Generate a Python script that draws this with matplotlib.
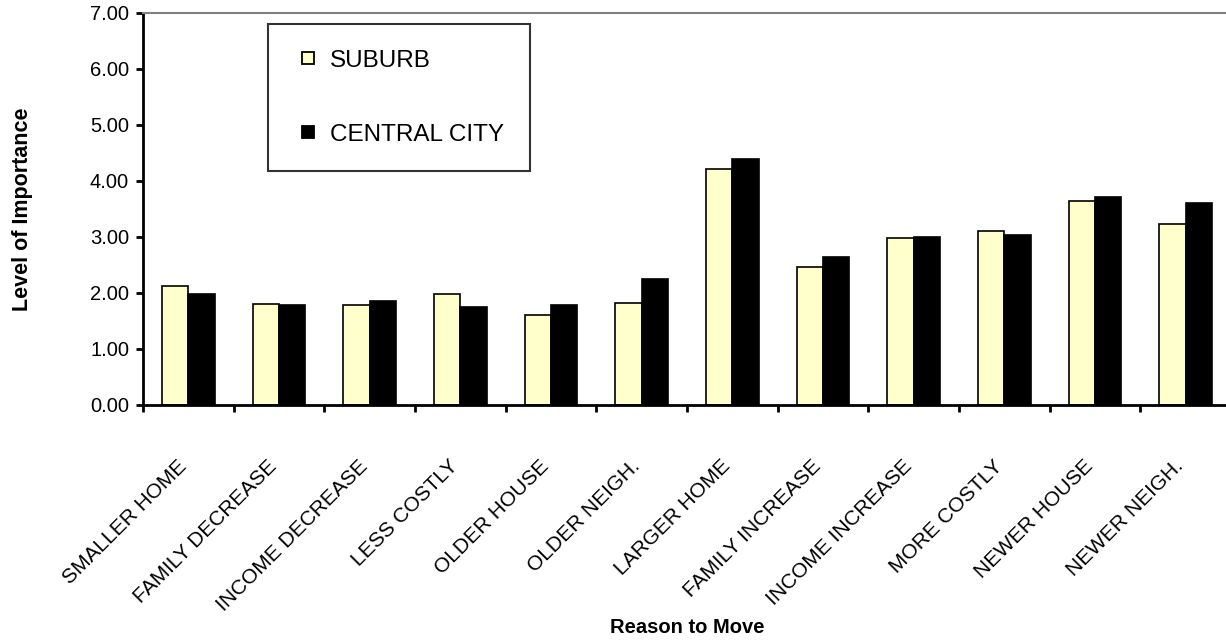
import numpy as np
import matplotlib
matplotlib.use("Agg")
import matplotlib.pyplot as plt
from matplotlib.lines import Line2D
import matplotlib.transforms as mtransforms

plt.rcParams['font.family'] = ['Liberation Sans', 'DejaVu Sans']

# reasons for moving and mean importance score per location
reasons = ["SMALLER HOME", "FAMILY DECREASE", "INCOME DECREASE", "LESS COSTLY",
           "OLDER HOUSE", "OLDER NEIGH.", "LARGER HOME", "FAMILY INCREASE",
           "INCOME INCREASE", "MORE COSTLY", "NEWER HOUSE", "NEWER NEIGH."]
suburb = [2.13, 1.81, 1.78, 1.99, 1.60, 1.82, 4.21, 2.46, 2.99, 3.10, 3.64, 3.24]
central_city = [1.99, 1.78, 1.85, 1.75, 1.78, 2.25, 4.39, 2.64, 3.00, 3.03, 3.71, 3.60]
series_names = ["SUBURB", "CENTRAL CITY"]
yticks = [0, 1, 2, 3, 4, 5, 6, 7]

suburb_color = "#FFFFCC"
city_color = "#000000"

fig = plt.figure(figsize=(12.26, 6.41), dpi=100)
ax = fig.add_axes([143 / 1226, (641 - 405) / 641, 1088 / 1226, 392 / 641])

x = np.arange(len(reasons))
w = 0.29
ax.bar(x - w / 2, suburb, w, color=suburb_color, edgecolor="black", linewidth=1.2, zorder=2)
ax.bar(x + w / 2, central_city, w, color=city_color, edgecolor="black", linewidth=1.2, zorder=2)

ax.set_xlim(-0.5, len(reasons) - 0.5)
ax.set_ylim(0, 7)
ax.set_yticks(yticks)
ax.set_yticklabels([f"{v:.2f}" for v in yticks], fontsize=14.5)

# ticks at category boundaries, labels at category centres
ax.set_xticks(np.arange(-0.5, len(reasons), 1.0))
ax.set_xticklabels([])
ax.set_xticks(x, minor=True)
ax.set_xticklabels(reasons, minor=True, rotation=45, ha="right", va="center",
                   rotation_mode="anchor", fontsize=15)
ax.tick_params(axis="x", which="minor", length=0, pad=42)
ax.tick_params(axis="x", which="major", length=5, width=2, direction="out")
ax.tick_params(axis="y", length=5, width=2, direction="out", pad=5)

shift = mtransforms.ScaledTranslation(-5 / 100, 0, fig.dpi_scale_trans)
for lbl in ax.get_xticklabels(minor=True):
    lbl.set_transform(lbl.get_transform() + shift)

for side in ["left", "bottom"]:
    ax.spines[side].set_linewidth(2)
    ax.spines[side].set_color("black")
ax.spines["top"].set_color("#808080")
ax.spines["top"].set_linewidth(1.5)
ax.spines["right"].set_visible(False)

ax.set_ylabel("Level of Importance", fontsize=15.5, fontweight="bold")
ax.yaxis.set_label_coords(-0.101, 0.5)
ax.set_xlabel("Reason to Move", fontsize=14.5, fontweight="bold")
ax.xaxis.set_label_coords(0.5, -0.543)

handles = [Line2D([], [], linestyle="none", marker="s", markersize=8,
                  markerfacecolor=c, markeredgecolor="black", markeredgewidth=1.3)
           for c in (suburb_color, city_color)]
leg = ax.legend(handles, series_names, loc="upper left",
                bbox_to_anchor=(125 / 1088, (405 - 24) / 392), borderaxespad=0,
                fontsize=17.5, frameon=True, fancybox=False, edgecolor="black",
                borderpad=1.05, handlelength=1.2, handletextpad=0.3,
                labelspacing=2.15)
leg.get_frame().set_linewidth(1.5)

fig.savefig("out.png", dpi=100)
